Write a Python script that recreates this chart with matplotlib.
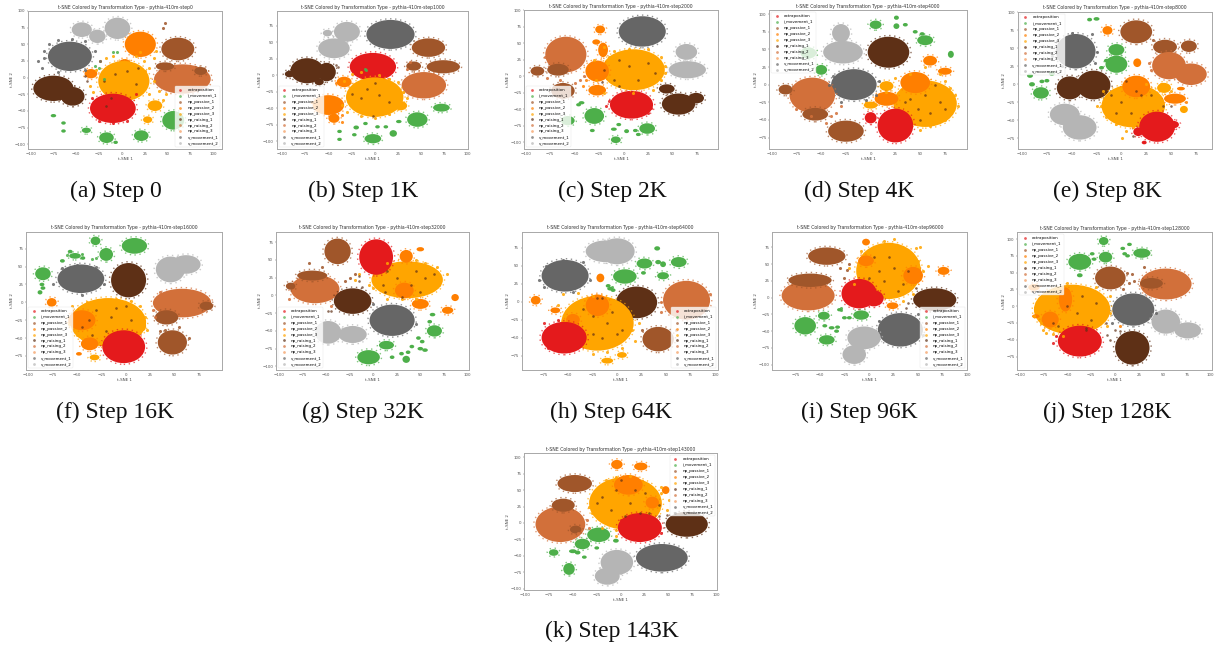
import matplotlib
matplotlib.use('Agg')
import matplotlib.pyplot as plt
from matplotlib.patches import Ellipse
from matplotlib.ticker import MultipleLocator

EX, IM = 'extraposition', 'i_movement_1'
P1, P2, P3 = 'np_passive_1', 'np_passive_2', 'np_passive_3'
R1, R2, R3 = 'np_raising_1', 'np_raising_2', 'np_raising_3'
V1, V2 = 'v_movement_1', 'v_movement_2'

class_names = [EX, IM, P1, P2, P3, R1, R2, R3, V1, V2]
class_colors = ['#e41a1c', '#4daf4a', '#a0562a', '#ff7f00', '#ffa500',
                '#5e3016', '#d2703a', '#f59a5c', '#666666', '#b5b5b5']
colors = dict(zip(class_names, class_colors))

steps = ['step0', 'step1000', 'step2000', 'step4000', 'step8000', 'step16000',
         'step32000', 'step64000', 'step96000', 'step128000', 'step143000']
captions = ['(a) Step 0', '(b) Step 1K', '(c) Step 2K', '(d) Step 4K', '(e) Step 8K',
            '(f) Step 16K', '(g) Step 32K', '(h) Step 64K', '(i) Step 96K',
            '(j) Step 128K', '(k) Step 143K']

# cluster rows: class, x, y, spread x, spread y
step0 = [(R2, 66, -2, 31, 22), (P1, 61, 43, 18, 17), (P1, 47, 17, 10, 6), (P1, 86, 10, 7, 6),
         (R1, -75, -16, 22, 19), (R1, -54, -28, 13, 14), (V2, -44, 72, 11, 11),
         (V2, -27, 62, 9, 10), (V2, -5, 74, 14, 16), (V1, -57, 32, 24, 22),
         (P2, 20, 50, 17, 19), (P2, -34, 6, 7, 7), (P2, 3, 20, 7, 8), (P3, 2, -5, 28, 30),
         (P3, 36, -42, 8, 8), (P3, 28, -63, 5, 5), (EX, -10, -46, 25, 22), (IM, 56, -64, 12, 14),
         (IM, 21, -87, 8, 8), (IM, -17, -90, 8, 8), (IM, -39, -79, 5, 4), (IM, -75, -57, 3, 2),
         (IM, -64, -68, 2, 2), (IM, -7, -97, 2, 2), (IM, -64, -80, 2, 2)]
step1k = [(V2, -44, 41, 17, 15), (V2, -30, 66, 14, 15), (V2, -51, 64, 5, 5), (V1, 17, 62, 26, 22),
          (P1, 58, 42, 18, 14), (P1, 74, 13, 18, 10), (P1, 42, 14, 8, 7), (R2, 53, -15, 24, 20),
          (R1, -73, 7, 18, 19), (R1, -92, 2, 5, 5), (R1, -52, 5, 10, 14), (R1, -60, -10, 5, 5),
          (EX, -2, 13, 25, 21), (P2, -50, -45, 17, 15), (P2, -44, -65, 6, 7), (P2, -33, -10, 8, 8),
          (P3, 0, -33, 31, 30), (P3, 28, -46, 7, 7), (IM, 46, -67, 11, 11), (IM, 72, -49, 9, 6),
          (IM, -2, -96, 9, 7), (IM, 20, -88, 4, 5), (IM, -20, -79, 3, 3), (IM, -10, -73, 2, 2),
          (IM, 3, -78, 2, 2), (IM, 12, -78, 2, 2), (IM, -38, -85, 2, 2), (IM, -38, -97, 2, 2),
          (IM, -22, -90, 2, 2), (IM, 26, -70, 3, 2)]
step2k = [(V1, 19, 68, 24, 23), (V2, 64, 37, 11, 12), (V2, 65, 10, 19, 13), (R2, -59, 33, 21, 27),
          (P1, -88, 8, 7, 7), (P1, -67, 10, 11, 9), (P1, -62, -22, 12, 12), (R1, 56, -42, 17, 16),
          (R1, 44, -19, 8, 7), (R1, 74, -33, 8, 8), (EX, 8, -43, 22, 21), (P3, 10, 10, 32, 31),
          (P2, -27, 8, 12, 16), (P2, -27, -21, 9, 8), (P2, -21, 40, 5, 11), (P2, -28, 52, 4, 4),
          (P2, -24, 71, 5, 6), (IM, -30, -60, 10, 12), (IM, -57, -67, 7, 7), (IM, 24, -79, 8, 8),
          (IM, -8, -96, 5, 5), (IM, -43, -40, 3, 2), (IM, -46, -43, 2, 2), (IM, -10, -80, 3, 2),
          (IM, -5, -73, 2, 2), (IM, 3, -83, 2, 3), (IM, 15, -88, 2, 2), (IM, -32, -82, 2, 2),
          (IM, 12, -82, 2, 2)]
step4k = [(V2, -30, 73, 9, 13), (V2, -28, 46, 20, 16), (R1, 18, 46, 21, 22), (V1, -17, 0, 23, 22),
          (R2, -59, -15, 23, 25), (P1, -86, -7, 7, 7), (P1, -56, -42, 13, 9), (P1, -25, -66, 18, 15),
          (P3, 55, -27, 32, 33), (P3, 16, -2, 7, 7), (P3, 0, -29, 7, 5), (P2, 45, 3, 15, 15),
          (P2, 16, -20, 12, 10), (P2, 60, 34, 7, 7), (P2, 75, 19, 7, 5), (EX, 25, -58, 18, 24),
          (EX, 0, -47, 6, 8), (IM, 5, 85, 6, 6), (IM, 55, 63, 8, 7), (IM, -50, 21, 6, 7),
          (IM, 81, 43, 3, 5), (IM, 26, 95, 2, 3), (IM, 26, 83, 3, 4), (IM, 35, 85, 2, 2),
          (IM, 45, 75, 2, 2), (IM, 52, 72, 2, 2), (IM, -63, 45, 8, 8)]
step8k = [(P1, 15, 73, 16, 16), (P1, 44, 52, 12, 10), (P1, 68, 53, 8, 8), (R2, 48, 26, 17, 19),
          (R2, 70, 14, 16, 15), (V1, -46, 46, 20, 24), (V2, -57, -42, 15, 15), (V2, -42, -60, 17, 17),
          (R1, -52, -5, 13, 16), (R1, -28, -1, 17, 20), (IM, -5, 48, 8, 8), (IM, -5, 28, 11, 12),
          (IM, -81, -12, 8, 8), (IM, -25, 91, 3, 2), (IM, -32, 90, 1.5, 1.5), (IM, -70, 15, 3, 3),
          (IM, -92, 12, 3, 3), (IM, -90, 0, 3, 3), (IM, -80, 4, 2, 2), (IM, -75, 5, 2, 2),
          (IM, -20, 23, 2, 2), (IM, -15, 33, 2, 2), (P2, -14, 75, 5, 6), (P2, 16, 30, 4, 6),
          (P3, 12, -30, 32, 30), (P3, 43, -5, 7, 7), (P3, 63, -35, 4, 5), (P2, 15, -3, 14, 15),
          (P2, 54, -20, 11, 7), (P2, 60, -6, 4, 2), (EX, 36, -59, 18, 21), (EX, 17, -66, 5, 6),
          (EX, 53, -56, 5, 5), (EX, 23, -81, 1.5, 1.5)]
step16k = [(IM, 9, 79, 13, 11), (IM, -31, 86, 5, 6), (IM, -20, 67, 7, 9), (IM, -85, 40, 8, 9),
           (IM, -52, 65, 6, 4), (IM, -57, 71, 2, 2), (IM, -44, 62, 2, 2), (IM, -65, 58, 2, 2),
           (IM, -88, 14, 2, 3), (IM, -85, 20, 2, 2), (IM, -86, 25, 2, 2), (V1, -46, 33, 24, 20),
           (R1, 3, 31, 18, 24), (V2, 46, 46, 15, 18), (V2, 62, 53, 15, 13), (R2, 58, -1, 30, 20),
           (P1, 42, -21, 12, 10), (P1, 83, -5, 7, 6), (P1, 48, -56, 15, 17), (P3, -18, -28, 39, 34),
           (P3, 18, -33, 3, 7), (P3, -32, -77, 5, 4), (P2, -76, 0, 5, 6), (P2, -45, -25, 14, 14),
           (P2, -37, -58, 9, 9), (P2, -48, -72, 3, 2), (EX, -2, -62, 22, 23)]
step32k = [(P1, -38, 62, 14, 18), (R2, -62, 9, 26, 20), (P1, -65, 28, 16, 7), (P1, -88, 13, 5, 5),
           (R1, -22, -8, 20, 18), (V1, 20, -35, 24, 22), (V2, -48, -52, 14, 16), (V2, -22, -55, 15, 12),
           (IM, -5, -87, 12, 10), (IM, 14, -70, 8, 6), (IM, 65, -50, 8, 8), (IM, 35, -90, 4, 5),
           (IM, 41, -72, 2, 2), (IM, 48, -60, 2, 2), (IM, 50, -75, 3, 2), (IM, 52, -65, 2, 2),
           (IM, 55, -77, 3, 2), (IM, 60, -37, 2, 2), (IM, 63, -27, 3, 2), (IM, 37, -80, 2, 2),
           (IM, 30, -82, 2, 2), (IM, 20, -87, 2, 2), (P3, 36, 22, 38, 26), (P2, 35, 55, 7, 9),
           (P2, 33, 7, 10, 11), (P2, 50, -12, 9, 7), (P2, 79, -21, 6, 5), (P2, 87, -3, 4, 5),
           (P2, 50, 65, 4, 3), (EX, 3, 54, 18, 25)]
step64k = [(V2, -12, 70, 20, 15), (V2, 0, 70, 18, 18), (V1, -53, 36, 24, 22), (IM, 8, 35, 12, 10),
           (IM, 28, 53, 8, 7), (IM, 47, 36, 6, 5), (IM, 63, 55, 8, 7), (IM, 41, 74, 3, 3),
           (IM, -7, 18, 3, 2), (IM, -4, 16, 2, 2), (IM, -9, 22, 2, 2), (IM, 27, 40, 2, 2),
           (IM, 42, 55, 3, 3), (IM, 47, 52, 3, 4), (R2, 71, 2, 24, 27), (R1, 20, -1, 21, 22),
           (P1, 42, -52, 16, 17), (P2, -83, 2, 5, 6), (P2, -17, 33, 4, 6), (P2, -63, -12, 5, 4),
           (P3, -20, -30, 37, 38), (P3, -10, -82, 6, 4), (P3, 5, -74, 5, 4), (P2, -20, -5, 12, 15),
           (P2, -45, -25, 7, 8), (EX, -54, -50, 23, 22)]
step96k = [(P1, -43, 62, 19, 13), (R2, -62, 3, 27, 22), (P1, -60, 26, 22, 10), (P3, 20, 40, 33, 42),
           (P2, -3, 55, 8, 8), (P2, -3, 83, 4, 5), (P2, 45, 33, 10, 13), (P2, 76, 40, 6, 6),
           (P2, 24, -12, 6, 5), (EX, -10, 6, 18, 22), (EX, 5, -1, 10, 12), (R1, 67, -3, 22, 17),
           (V1, 32, -48, 23, 25), (V2, -5, -60, 17, 17), (V2, -15, -85, 12, 14), (IM, -65, -42, 11, 13),
           (IM, -43, -63, 8, 7), (IM, -46, -27, 6, 6), (IM, -8, -26, 8, 7), (IM, -25, -30, 2, 2),
           (IM, -30, -18, 2, 2), (IM, -20, -30, 2, 2), (IM, -32, -44, 2, 2), (IM, -33, -50, 2, 2),
           (IM, -45, -42, 2, 2), (IM, -38, -45, 3, 2)]
step128k = [(IM, -37, 66, 12, 12), (IM, -10, 73, 7, 8), (IM, -12, 97, 5, 6), (IM, 28, 79, 9, 7),
            (IM, -37, 46, 3, 3), (IM, -24, 78, 2, 2), (IM, -22, 70, 2, 2), (IM, 8, 86, 2, 2),
            (IM, 10, 78, 2, 2), (IM, 15, 92, 2, 2), (IM, 13, 75, 2, 2), (P1, -5, 42, 16, 17),
            (R2, 53, 33, 27, 23), (P1, 38, 34, 12, 8), (V1, 19, -5, 22, 24), (V2, 53, -23, 15, 18),
            (V2, 76, -36, 14, 12), (R1, 18, -62, 18, 25), (P3, -45, -5, 40, 37), (P2, -52, 10, 7, 18),
            (P2, -68, -20, 9, 12), (P2, -85, 28, 6, 5), (P2, -83, -15, 4, 3), (EX, -37, -52, 23, 23)]
step143k = [(P1, -48, 60, 18, 13), (R2, -63, -2, 26, 27), (P1, -60, 27, 12, 10), (P1, -47, -10, 6, 6),
            (P3, 5, 30, 38, 40), (P2, -4, 89, 6, 7), (P2, 21, 86, 7, 6), (P2, 8, 58, 15, 15),
            (P2, 33, 31, 7, 9), (P2, 47, 50, 4, 6), (R1, 69, -2, 22, 19), (EX, 20, -7, 23, 22),
            (V1, 43, -53, 27, 21), (V2, -4, -60, 17, 19), (V2, -14, -81, 13, 13), (IM, -23, -18, 12, 11),
            (IM, -40, -32, 8, 8), (IM, -54, -70, 6, 9), (IM, -70, -45, 5, 5), (IM, -5, -27, 3, 3),
            (IM, -50, -43, 4, 3), (IM, -45, -45, 3, 3), (IM, -38, -52, 2, 2), (IM, -25, -38, 2, 2)]
clusters = [step0, step1k, step2k, step4k, step8k, step16k, step32k, step64k, step96k, step128k, step143k]

# loose points picked out by eye, per class
loose0 = {P3: [(-35, -12), (-28, 12), (-24, 25), (-17, 30), (-10, 33), (15, 32), (24, 25), (30, 15), (35, -5), (40, -20),
               (45, -33), (30, -25), (-32, -22), (25, 10), (20, 38), (37, 40), (35, 30), (48, -25)],
          R1: [(-8, 5), (5, 10), (15, -10), (-20, -5), (18, 15), (-12, -30), (-18, -42), (-40, 3), (-38, -5)],
          V1: [(-92, 25), (-85, 40), (-80, 50), (-70, 57), (-55, 58), (-40, 55), (-30, 40), (-24, 25), (-88, 15), (-85, 30),
               (-70, 8), (-40, 12), (-75, 45)],
          P1: [(47, 82), (45, 75)], EX: [(-33, -30), (-30, -55), (-25, -65), (-10, -68), (5, -65), (15, -25)],
          IM: [(-30, 18), (-25, 15), (-20, -2), (-10, 38), (-5, 38), (52, -55)]}
loose1 = {P3: [(-33, -8), (-25, 2), (-15, 5), (5, 0), (15, -5), (25, -10), (30, -25), (35, -35), (-35, -45), (-30, -55),
               (-15, -62), (0, -65), (15, -58)],
          R1: [(-8, -20), (0, -12), (5, -30), (-15, -35), (-2, -62), (15, -40), (-25, -28), (-42, 15), (-40, 12)],
          P2: [(-68, -40), (-60, -50), (-35, -60), (-35, -70), (-42, -12)], R2: [(35, 10), (38, 20)], IM: [(-10, 10), (-9, 8)]}
loose2 = {P3: [(-28, -5), (-15, 30), (-10, 38), (5, 42), (25, 42), (38, 30), (42, 15), (38, -5), (30, -20), (10, -25),
               (-20, -25), (-30, 25), (-20, 45), (42, 5)],
          R1: [(-20, 10), (-10, -5), (5, 15), (15, -5), (25, 20), (-5, 25), (-22, -8), (32, 5), (-5, -15)],
          R2: [(-80, 30), (-75, 45), (-65, -5), (-50, -10), (-45, -5), (-40, 0), (-78, -2)], P2: [(-38, -5), (-42, -15)],
          EX: [(-15, -38), (-18, -45), (25, -55), (28, -48)]}
loose3 = {P3: [(15, -10), (25, 10), (40, 15), (55, 25), (75, 5), (85, -15), (88, -30), (75, -50), (60, -58), (50, -65),
               (35, -35), (-5, -25), (70, 15), (80, -5)],
          R1: [(40, -20), (55, -15), (60, -40), (70, -25), (48, -35), (65, 0), (35, -25), (75, -35), (50, -50)],
          R2: [(-40, -45), (-35, -40), (-30, -30), (-45, -55), (-60, -45), (-75, -35)],
          V1: [(-42, 0), (-38, 12), (8, 5), (5, -15), (-30, -25), (-5, -22)]}
loose4 = {P3: [(-18, -10), (-20, -30), (-15, -45), (-5, -55), (5, -65), (1, -75), (12, -60), (30, -25), (40, 0), (50, -10),
               (25, 0), (-25, -30)],
          R1: [(-10, -15), (0, -25), (10, -40), (20, -15), (-5, -40), (30, -15), (42, -30), (50, -30), (12, -72), (15, -10), (5, 5)],
          P2: [(62, -20), (65, -25)], R2: [(28, 30), (30, 20)], P1: [(32, 62), (35, 55)],
          V1: [(-70, 40), (-65, 60), (-50, 72), (-30, 70), (-25, 45), (-27, 30), (-60, 25)]}
loose5 = {P3: [(-55, -5), (-40, 0), (-25, 3), (-10, 5), (5, 2), (15, -5), (20, -20), (15, -30), (-58, -30), (-50, -45),
               (-45, -50), (-25, -55), (22, -38), (10, -10)],
          R1: [(-30, -10), (-15, -20), (0, -5), (-45, -35), (-20, -40), (5, -25), (-35, -45), (-10, -8), (-38, -25)],
          R2: [(28, -10), (35, 15), (30, -20)], P1: [(55, -35), (40, -38), (35, -40), (65, -50)],
          V1: [(-75, 25), (-65, 48), (-50, 52), (-30, 50), (-22, 25), (-45, 10)], IM: [(-60, 66), (-45, 68), (-35, 60), (-30, 62)]}
loose6 = {P3: [(-5, 15), (5, 25), (0, 10), (15, -5), (30, -5), (45, -5), (60, 10), (70, 15), (78, 30), (68, 40), (55, 45),
               (45, 50), (30, 40), (15, 45), (-15, 30), (-20, 22)],
          R1: [(10, 15), (25, 25), (40, 15), (55, 25), (65, 30), (30, -2), (15, 35), (45, 35), (-15, 28), (50, 5), (12, 5),
               (-15, 20), (-12, 12), (-45, -22), (-48, -22)],
          P1: [(-30, 20), (-25, 25), (-20, 30), (-55, 40), (-68, 45), (-75, 25)], R2: [(-90, -5), (-45, -15)],
          V1: [(0, -12), (45, -40)]}
loose7 = {P3: [(-60, -5), (-55, 10), (-40, 12), (-25, 8), (0, -20), (10, -30), (15, -40), (18, -55), (5, -65), (-10, -70),
               (-25, -72), (-30, -60), (22, -30)],
          R1: [(-25, -20), (-10, -30), (-35, -10), (0, -45), (-15, -50), (-25, -45), (-5, -15), (-20, 5), (5, -40), (-15, 5)],
          R2: [(45, 0), (45, -15), (95, 10)], IM: [(-5, 20)], P1: [(25, -40), (60, -40)],
          V1: [(-80, 30), (-72, 50), (-55, 58), (-35, 55), (-28, 30), (-45, 13), (-75, 20)],
          EX: [(-75, -30), (-60, -25), (-70, -65)]}
loose8 = {P3: [(-20, 45), (-15, 20), (-8, 70), (5, 70), (15, 85), (25, 88), (40, 70), (50, 55), (55, 40), (45, 5), (35, -5),
               (25, 5), (52, 75), (48, 74), (60, 48)],
          R1: [(0, 30), (15, 25), (25, 45), (35, 20), (5, 60), (20, 60), (30, 10), (10, 40), (40, 40), (48, 15), (40, -8),
               (38, -15), (55, -15)],
          P1: [(-30, 45), (-25, 30), (-22, 42), (-20, 50)], IM: [(-28, -18), (-29, -16)], V1: [(10, -35), (50, -25), (55, -55)]}
loose9 = {P3: [(-80, -5), (-78, -25), (-72, -40), (-65, 10), (-60, 25), (-40, 30), (-20, 28), (-5, 15), (-5, -10), (-8, -30),
               (-65, -42), (-55, -45), (-50, 35), (-75, -35), (-85, -15)],
          R1: [(-40, -10), (-25, -20), (-60, -30), (-50, 0), (-20, 5), (-35, 15), (-30, -35), (-65, -25), (-10, -25), (-30, -32),
               (-8, -43), (-5, -50), (0, -35), (5, -37)],
          P1: [(12, 50), (18, 48), (20, 38), (15, 35), (8, 25), (30, 58)], EX: [(-65, -55), (-62, -45)], P2: [(5, -30)],
          V1: [(-3, -25), (43, -10)]}
loose10 = {P3: [(-33, 25), (-30, 35), (-25, 50), (-15, 65), (-5, 70), (10, 72), (30, 55), (42, 45), (50, 35), (48, 20), (35, 15),
                (-30, 15), (-15, 5), (-5, -10), (-5, -20), (42, 55), (-20, -8)],
           R1: [(-20, 40), (-5, 50), (10, 30), (25, 45), (-10, 20), (5, 10), (30, 15), (15, 50), (40, 28), (-25, 30), (20, 15),
                (0, 65), (40, 10), (48, 12)],
           R2: [(-40, -5), (-35, 5), (-33, -8), (-45, -15)], P1: [(-52, 30)], EX: [(0, 5), (42, -15)]}
loose = [loose0, loose1, loose2, loose3, loose4, loose5, loose6, loose7, loose8, loose9, loose10]

# axes limits
xlims = [(-102.5, 109), (-105.8, 101), (-101.4, 96.6), (-102.4, 97), (-104.4, 91.6), (-102.4, 99.3),
         (-103.5, 102.1), (-97.3, 103.4), (-98.5, 100.2), (-102.4, 101.7), (-100.7, 100.3)]
ylims = [(-107, 100), (-111.6, 97.5), (-110, 100), (-91.3, 105.5), (-90, 101), (-94.6, 98.8),
         (-105, 89.7), (-94.9, 97.2), (-108, 98.5), (-95, 110), (-102, 106)]
legend_locs = ['lower right', 'lower left', 'lower left', 'upper left', 'upper left', 'lower left',
               'lower left', 'lower right', 'lower right', 'upper left', 'upper right']

# axes box in pixels: left, top, right, bottom
boxes = [(28.3, 11, 221.7, 149), (276.7, 11, 468.3, 149), (524.3, 10.3, 718.3, 149),
         (769.3, 10.3, 966.7, 149), (1017.7, 11.7, 1212.3, 149), (26, 231.7, 222.3, 370),
         (276, 231.7, 469.3, 370), (521.7, 231.7, 718.3, 370), (772.3, 231.7, 967.3, 370),
         (1017.3, 232.3, 1212.3, 370), (524.3, 453.3, 716.7, 590)]
caption_xy = [(116, 191), (363, 191), (612, 191), (859, 191), (1107, 191), (115, 412), (363, 412),
              (611, 412), (859, 412), (1107, 412), (612, 631)]

W, H = 1221, 651
fig = plt.figure(figsize=(W / 100, H / 100), dpi=100)

for i, rows in enumerate(clusters):
    l, t, r, b = boxes[i]
    ax = fig.add_axes([l / W, 1 - b / H, (r - l) / W, (b - t) / H])
    ax.set_xlim(xlims[i])
    ax.set_ylim(ylims[i])
    for cls, x, y, sx, sy in rows:
        c = colors[cls]
        ax.add_patch(Ellipse((x, y), 2 * max(sx, 2.5), 2 * max(sy, 2.5), facecolor=c, edgecolor='none', zorder=2))
        if sx >= 5:
            # sparse rim of the cloud
            ax.add_patch(Ellipse((x, y), 2 * sx + 3.5, 2 * sy + 3.5, facecolor='none', edgecolor=c, alpha=0.7,
                                 linewidth=1.0, linestyle=(0, (1, 2.6)), zorder=2))
    for cls, pts in loose[i].items():
        ax.scatter([p[0] for p in pts], [p[1] for p in pts], s=3.5 if cls == R1 else 5, color=colors[cls],
                   alpha=0.7 if cls == R1 else 0.85, linewidths=0, zorder=3)
    for name in class_names:
        ax.scatter([], [], s=4, color=colors[name], alpha=0.7, linewidths=0, label=name)
    ax.set_title('t-SNE Colored by Transformation Type - pythia-410m-' + steps[i],
                 fontsize=3.35, color='#333333', pad=1.7)
    ax.set_xlabel('t-SNE 1', fontsize=2.85, color='#444444', labelpad=1.2)
    ax.set_ylabel('t-SNE 2', fontsize=2.85, color='#444444', labelpad=0.4)
    ax.xaxis.set_major_locator(MultipleLocator(25))
    ax.yaxis.set_major_locator(MultipleLocator(25))
    ax.tick_params(labelsize=2.85, length=1, width=0.3, pad=1, colors='#555555')
    for s in ax.spines.values():
        s.set_color('#a8a8a8')
        s.set_linewidth(0.7)
    leg = ax.legend(loc=legend_locs[i], fontsize=2.85, borderaxespad=0.5, framealpha=0.8, edgecolor='#dddddd')
    leg.get_frame().set_linewidth(0.3)
    leg.set_zorder(5)
    fig.text(caption_xy[i][0] / W, 1 - caption_xy[i][1] / H, captions[i], ha='center', va='center',
             fontsize=17, family='Liberation Serif', color='#111111')

fig.savefig('out.png', dpi=100)
